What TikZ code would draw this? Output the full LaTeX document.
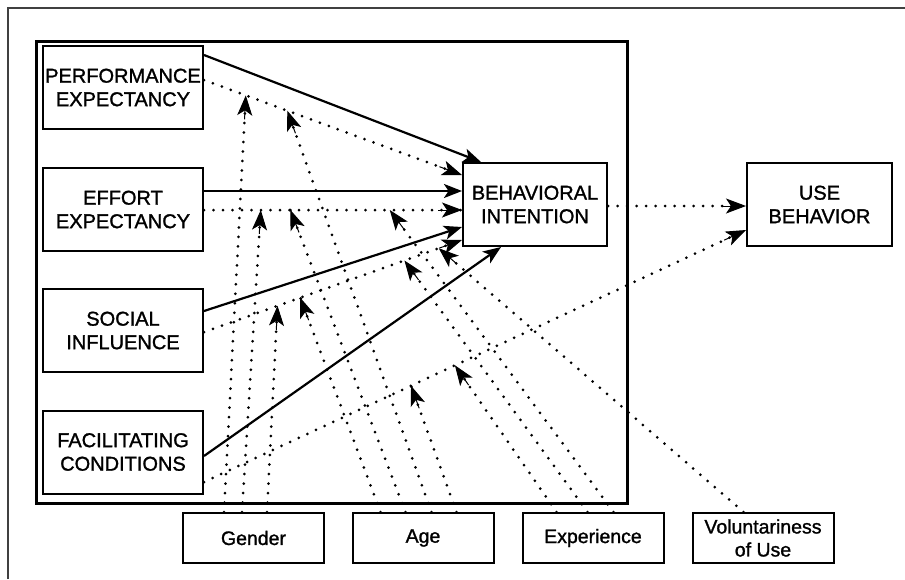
\documentclass[tikz,border=0pt]{standalone}
\usepackage{fontspec}
\setmainfont{Liberation Sans}
\newfontfamily\diagfont{Liberation Sans}[FakeBold=1.3]
\usetikzlibrary{arrows.meta,calc}
% dotted connector with a solid arrow tip at its end
\newcommand\mydotarrow[2]{%
  \draw[dotline] (#1) -- (#2);
  \draw[dottip] ($(#2)!24pt!(#1)$) -- (#2);}
\begin{document}
\begin{tikzpicture}[x=1pt,y=-1pt,
  box/.style={draw=black,line width=2pt,minimum width=160pt,minimum height=83pt,inner sep=0pt,align=center,font=\diagfont\fontsize{20}{23.5}\selectfont},
  modbox/.style={draw=black,line width=2pt,minimum width=141pt,minimum height=50pt,inner sep=0pt,align=center,font=\diagfont\fontsize{19.5}{23}\selectfont},
  solidarrow/.style={line width=2.2pt,-{Stealth[length=18pt,width=14pt,inset=4.5pt]}},
  dotline/.style={line width=3pt,line cap=round,dash pattern=on 0pt off 9.5pt},
  dottip/.style={line width=1pt,-{Stealth[length=20pt,width=15pt,inset=5pt]}},
]
\useasboundingbox (0,0) rectangle (905,579);
% outer frame (top and left edges)
\draw[line width=1.5pt,black!75] (8,579) -- (8,8) -- (905,8);
% big box
\draw[line width=3pt] (36,41) rectangle (627,503);

% construct boxes
\node[box] (pe) at (123,87.5) {PERFORMANCE\\EXPECTANCY};
\node[box] (ee) at (123,209.5) {EFFORT\\EXPECTANCY};
\node[box] (si) at (123,330.5) {SOCIAL\\INFLUENCE};
\node[box] (fc) at (123,452) {FACILITATING\\CONDITIONS};
\node[box,minimum width=144pt] (bi) at (535,204.5) {BEHAVIORAL\\INTENTION};
\node[box,minimum width=145pt] (ub) at (819.5,204.5) {USE\\BEHAVIOR};
% moderator boxes
\node[modbox] (gen) at (253.5,538) {Gender};
\node[modbox] (age) at (423,538) {Age};
\node[modbox] (exp) at (593,538) {Experience};
\node[modbox] (vol) at (763,538) {Voluntariness\\of Use};

% solid paths to behavioral intention
\draw[solidarrow] ($(pe.north east)+(0,10)$) -- ($(bi.north west)+(19,0)$);
\draw[solidarrow] ($(ee.east)+(0,-18.5)$) -- ($(bi.west)+(0,-13.5)$);
\draw[solidarrow] ($(si.east)+(0,-19.5)$) -- ($(bi.west)+(0,22.5)$);
\draw[solidarrow] ($(fc.east)+(0,4)$) -- ($(bi.south west)+(39,0)$);

% dotted paths: end points
\coordinate (peA) at ($(pe.east)+(0,-7.5)$);
\coordinate (peB) at ($(bi.west)+(0,-29.5)$);
\coordinate (eeA) at ($(ee.east)+(0,0.5)$);
\coordinate (eeB) at ($(bi.west)+(0,5.5)$);
\coordinate (siA) at ($(si.east)+(0,1.5)$);
\coordinate (siB) at ($(bi.west)+(0,35.5)$);
\coordinate (fcA) at ($(fc.east)+(0,30)$);
\coordinate (fcB) at ($(ub.west)+(0,25.5)$);
\coordinate (biA) at ($(bi.east)+(0,1.5)$);
\coordinate (biB) at ($(ub.west)+(0,1.5)$);

\mydotarrow{peA}{peB}
\mydotarrow{eeA}{eeB}
\mydotarrow{siA}{siB}
\mydotarrow{fcA}{fcB}
\mydotarrow{biA}{biB}

% moderator targets on dotted paths
\coordinate (tPEg) at ($(peA)!0.162!(peB)$);
\coordinate (tPEa) at ($(peA)!0.323!(peB)$);
\coordinate (tEEg) at ($(eeA)!0.22!(eeB)$);
\coordinate (tEEa) at ($(eeA)!0.335!(eeB)$);
\coordinate (tEEe) at ($(eeA)!0.72!(eeB)$);
\coordinate (tSIg) at ($(siA)!0.285!(siB)$);
\coordinate (tSIa) at ($(siA)!0.373!(siB)$);
\coordinate (tSIe) at ($(siA)!0.777!(siB)$);
\coordinate (tSIv) at ($(siA)!0.91!(siB)$);
\coordinate (tFCa) at ($(fcA)!0.382!(fcB)$);
\coordinate (tFCe) at ($(fcA)!0.463!(fcB)$);

% moderator start points
\coordinate (g1) at ($(gen.north west)+(42,0)$);
\coordinate (g2) at ($(gen.north west)+(60,0)$);
\coordinate (g3) at ($(gen.north west)+(85,0)$);
\coordinate (a1) at ($(age.north west)+(29,0)$);
\coordinate (a2) at ($(age.north west)+(54,0)$);
\coordinate (a3) at ($(age.north west)+(80,0)$);
\coordinate (a4) at ($(age.north west)+(105,0)$);
\coordinate (e1) at ($(exp.north west)+(35,0)$);
\coordinate (e2) at ($(exp.north west)+(66,0)$);
\coordinate (e3) at ($(exp.north west)+(92,0)$);
\coordinate (v1) at ($(vol.north west)+(52,0)$);

% gender
\mydotarrow{g1}{tPEg}
\mydotarrow{g2}{tEEg}
\mydotarrow{g3}{tSIg}
% age
\mydotarrow{a1}{tSIa}
\mydotarrow{a2}{tEEa}
\mydotarrow{a3}{tPEa}
\mydotarrow{a4}{tFCa}
% experience
\mydotarrow{e1}{tFCe}
\mydotarrow{e2}{tSIe}
\mydotarrow{e3}{tEEe}
% voluntariness
\mydotarrow{v1}{tSIv}
\end{tikzpicture}
\end{document}
